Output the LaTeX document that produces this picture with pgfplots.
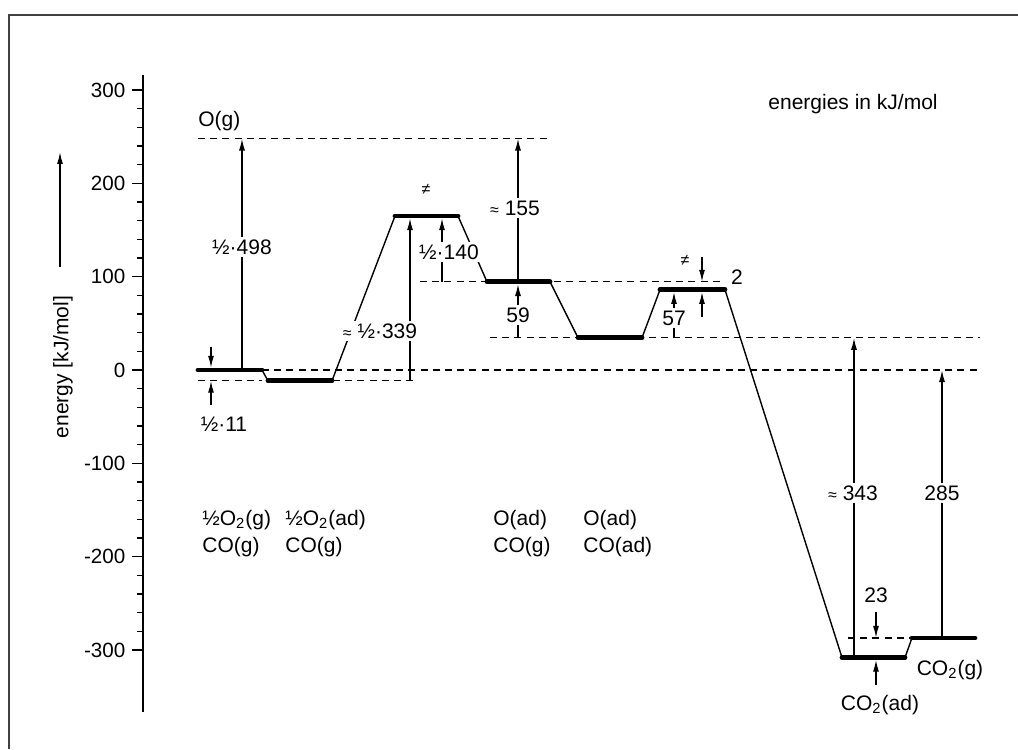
\documentclass[border=0pt]{standalone}
\usepackage{fontspec}
\setmainfont{Liberation Sans}
\usepackage{pgfplots}
\pgfplotsset{compat=1.18}
\usetikzlibrary{arrows.meta}
\tikzset{
  lev/.style={line width=2.4pt, line cap=round},
  con/.style={line width=0.7pt},
  dsh/.style={line width=0.7pt, dash pattern=on 3.5pt off 2.6pt},
  arr/.style={line width=0.7pt, -{Latex[length=6pt,width=3pt]}},
  lab/.style={fill=white, inner sep=1.2pt},
  txt/.style={inner sep=0pt},
  every node/.append style={font=\fontsize{10.5}{12.6}\selectfont},
}
\begin{document}
\begin{tikzpicture}
\begin{axis}[
  scale only axis, width=428.35pt, height=318.3pt,
  xmin=143.3, xmax=1000, ymin=-366, ymax=316,
  axis x line=none, axis y line*=left,
  clip=false,
  ytick={-300,-200,-100,0,100,200,300},
  yticklabels={-300,-200,-100,0,100,200,300},
  yticklabel style={font=\fontsize{10.3}{12}\selectfont},
  minor y tick num=4,
  tick align=outside,
  major tick length=5.5pt, minor tick length=3pt,
  every tick/.style={black, line width=0.55pt},
  y axis line style={line width=0.9pt},
  /pgf/number format/assume math mode=true,
]
% dashed reference lines
\addplot[dsh] coordinates {(198,248) (548,248)};
\addplot[dsh] coordinates {(262,0) (980,0)};
\addplot[dsh] coordinates {(198,-11.5) (262,-11.5)};
\addplot[dsh] coordinates {(333,-11.5) (416,-11.5)};
\addplot[dsh] coordinates {(420,94.5) (725,94.5)};
\addplot[dsh] coordinates {(490,34.5) (980,34.5)};
\addplot[dsh] coordinates {(848,-287) (912,-287)};
% connections
\addplot[con] coordinates {(262,0) (268,-11.5)};
\addplot[con] coordinates {(332,-11.5) (395,165)};
\addplot[con] coordinates {(458,165) (487,94.5)};
\addplot[con] coordinates {(550,94.5) (578,34.5)};
\addplot[con] coordinates {(642,34.5) (660,86)};
\addplot[con] coordinates {(725,86) (842,-308)};
\addplot[con] coordinates {(905,-308) (912,-287)};
% levels
\addplot[lev] coordinates {(198,0) (262,0)};
\addplot[lev] coordinates {(268,-11.5) (332,-11.5)};
\addplot[lev] coordinates {(395,165) (458,165)};
\addplot[lev] coordinates {(487,94.5) (550,94.5)};
\addplot[lev] coordinates {(578,34.5) (642,34.5)};
\addplot[lev] coordinates {(660,86) (725,86)};
\addplot[lev] coordinates {(842,-308) (905,-308)};
\addplot[lev] coordinates {(912,-287) (975,-287)};
% arrows
\addplot[arr] coordinates {(242,1) (242,248)};
\addplot[arr] coordinates {(211,25) (211,2.4)};
\addplot[arr] coordinates {(211,-37.5) (211,-11.5)};
\addplot[arr] coordinates {(410,-11.5) (410,162.6)};
\addplot[arr] coordinates {(442,94.5) (442,162.6)};
\addplot[arr] coordinates {(518,94.5) (518,248)};
\addplot[arr] coordinates {(518,34.5) (518,92.1)};
\addplot[arr] coordinates {(674,34.5) (674,83.6)};
\addplot[arr] coordinates {(702,121) (702,94.5)};
\addplot[arr] coordinates {(702,56.8) (702,83.6)};
\addplot[arr] coordinates {(854,-308) (854,34.5)};
\addplot[arr] coordinates {(942,-287) (942,0)};
\addplot[arr] coordinates {(876,-259) (876,-287)};
\addplot[arr] coordinates {(876,-337.5) (876,-310.4)};
% y label arrow
\addplot[arr] coordinates {(60,110.4) (60,233.6)};
% labels
\node[lab] at (axis cs:242,131.8) {½·498};
\node[txt] at (axis cs:224,-57.9) {½·11};
\node[txt, anchor=base west] at (axis cs:198,260.7) {O(g)};
\node[txt] at (axis cs:426,193) {\footnotesize ≠};
\node[lab] at (axis cs:380,41.8) {{\footnotesize ≈} ½·339};
\node[lab] at (axis cs:449,126.4) {½·140};
\node[lab] at (axis cs:515,173.6) {{\footnotesize ≈} 155};
\node[lab] at (axis cs:518,58.9) {59};
\node[txt] at (axis cs:685,117.9) {\footnotesize ≠};
\node[lab] at (axis cs:674,55.7) {57};
\node[txt] at (axis cs:737,99.6) {2};
\node[lab] at (axis cs:853,-131.8) {{\footnotesize ≈} 343};
\node[lab] at (axis cs:942,-131.8) {285};
\node[txt] at (axis cs:876,-241) {23};
\node[txt] at (axis cs:880,-359) {CO\textsubscript{2}(ad)};
\node[txt] at (axis cs:950,-321) {CO\textsubscript{2}(g)};
\node[txt, anchor=base west] at (axis cs:768,279.3) {energies in kJ/mol};
\node[txt, anchor=base west] at (axis cs:202,-166.1) {½O\textsubscript{2}(g)};
\node[txt, anchor=base west] at (axis cs:202,-195.8) {CO(g)};
\node[txt, anchor=base west] at (axis cs:285,-166.1) {½O\textsubscript{2}(ad)};
\node[txt, anchor=base west] at (axis cs:285,-195.8) {CO(g)};
\node[txt, anchor=base west] at (axis cs:493,-166.1) {O(ad)};
\node[txt, anchor=base west] at (axis cs:493,-195.8) {CO(g)};
\node[txt, anchor=base west] at (axis cs:583,-166.1) {O(ad)};
\node[txt, anchor=base west] at (axis cs:583,-195.8) {CO(ad)};
\node[txt, rotate=90] at (axis cs:63,3.2) {energy [kJ/mol]};
% frame
\draw[black!75, line width=1pt] (axis cs:9.3,-406.1) -- (axis cs:9.3,380.4) -- (axis cs:1018,380.4);
\coordinate (BL) at (axis cs:0,-406.1);
\coordinate (TR) at (axis cs:1018,396.4);
\end{axis}
\pgfresetboundingbox
\path (BL) rectangle (TR);
\end{tikzpicture}
\end{document}
